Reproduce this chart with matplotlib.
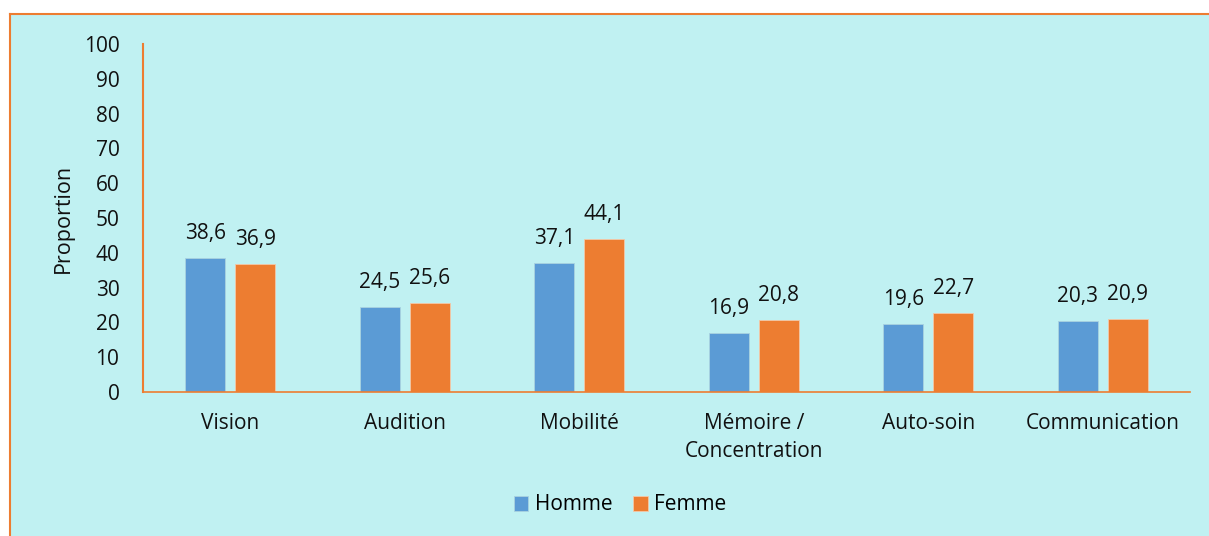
import matplotlib
matplotlib.use("Agg")
import matplotlib.pyplot as plt
import numpy as np
from matplotlib.patches import Rectangle
from matplotlib.lines import Line2D

categories = ["Vision", "Audition", "Mobilité", "Mémoire /\nConcentration", "Auto-soin", "Communication"]
homme = [38.6, 24.5, 37.1, 16.9, 19.6, 20.3]
femme = [36.9, 25.6, 44.1, 20.8, 22.7, 20.9]
yticks = list(range(0, 101, 10))

BG = "#C0F1F2"
ORANGE = "#ED7D31"
BLUE = "#5B9BD5"
FS = 15

plt.rcParams["font.family"] = ["Open Sans", "DejaVu Sans"]

fig = plt.figure(figsize=(12.09, 5.36), dpi=100)
fig.patch.set_facecolor("white")

# cyan panel with orange top/left border
x0, y0 = 10 / 1209, 0.0
y1 = 1 - 14 / 536
fig.patches.append(Rectangle((x0, y0), 1 - x0, y1 - y0, transform=fig.transFigure,
                             facecolor=BG, edgecolor="none", zorder=-2))
fig.lines.append(Line2D([x0, 1], [y1, y1], transform=fig.transFigure, color=ORANGE, lw=1.5, zorder=-1))
fig.lines.append(Line2D([x0, x0], [0, y1], transform=fig.transFigure, color=ORANGE, lw=1.5, zorder=-1))

ax = fig.add_axes([143 / 1209, 1 - 392 / 536, (1190 - 143) / 1209, (392 - 44) / 536])
ax.set_facecolor("none")

x = np.arange(len(categories))
w = 0.23
off = 0.143
b1 = ax.bar(x - off, homme, w, color=BLUE, edgecolor="#A9D3E0", linewidth=0.6, label="Homme")
b2 = ax.bar(x + off, femme, w, color=ORANGE, edgecolor="#F3C9A8", linewidth=0.6, label="Femme")

for bars, vals in ((b1, homme), (b2, femme)):
    for r, v in zip(bars, vals):
        ax.text(r.get_x() + r.get_width() / 2, v + 4, f"{v:.1f}".replace(".", ","),
                ha="center", va="bottom", fontsize=FS, color="#111111")

ax.set_xlim(-0.5, len(categories) - 0.5)
ax.set_ylim(0, 100)
ax.set_yticks(yticks)
ax.set_xticks(x)
ax.set_xticklabels(categories, fontsize=FS, color="#111111", linespacing=1.45)
ax.tick_params(axis="y", labelsize=FS, colors="#111111", length=0, pad=17)
ax.tick_params(axis="x", length=0, pad=15)

for s in ("top", "right"):
    ax.spines[s].set_visible(False)
ax.spines["left"].set_color(ORANGE)
ax.spines["left"].set_linewidth(1.5)
ax.spines["bottom"].set_color(ORANGE)
ax.spines["bottom"].set_linewidth(1.2)

ax.set_ylabel("Proportion", fontsize=FS + 0.5, color="#111111")
ax.yaxis.set_label_coords((74 - 143) / 1047, 0.5)

fig.legend(handles=[b1, b2], labels=["Homme", "Femme"], loc="center",
           bbox_to_anchor=(620 / 1209, 1 - 505 / 536), ncol=2, frameon=False,
           fontsize=FS, handlelength=0.7, handleheight=0.7, handletextpad=0.3,
           columnspacing=1.0)

fig.savefig("out.png", dpi=100, facecolor="white")
